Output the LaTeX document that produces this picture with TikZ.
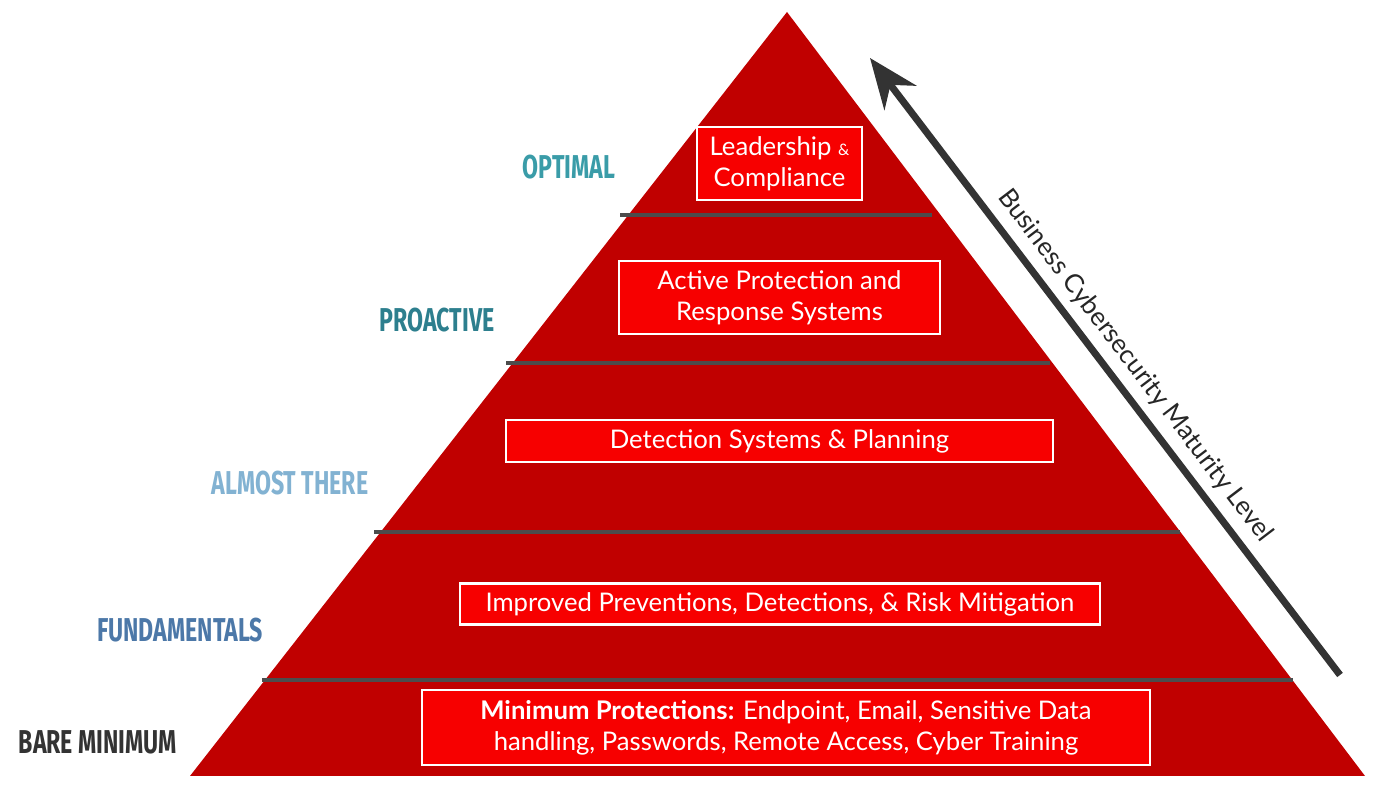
\documentclass[tikz,border=0pt]{standalone}
\usepackage{fontspec}
\usepackage{graphicx}
\setmainfont{Lato}
\newfontfamily\labelfont{Fira Sans}
\usetikzlibrary{arrows.meta}
\definecolor{pyrred}{HTML}{C00000}
\definecolor{boxred}{HTML}{F70000}
\definecolor{optcol}{HTML}{3A9CA8}
\definecolor{procol}{HTML}{2D7F8E}
\definecolor{almcol}{HTML}{82B2D2}
\definecolor{funcol}{HTML}{4C78A8}
\definecolor{barecol}{HTML}{333333}
\tikzset{
  levelbox/.style={draw=white, line width=0.25mm, fill=boxred, text=white, align=center,
    inner sep=0pt, font=\fontsize{7.3}{8.8}\selectfont},
  levellabel/.style={font=\labelfont\bfseries\fontsize{9.4}{11}\selectfont},
  bandline/.style={draw=black!70, line width=0.4mm}
}
\newcommand{\narrow}[1]{\scalebox{0.70}[1]{#1}}
\begin{document}
\begin{tikzpicture}[x=0.01cm,y=-0.01cm]
\useasboundingbox (0,0) rectangle (1387,786);
% pyramid
\fill[pyrred] (787,12) -- (1365,776) -- (190,776) -- cycle;
\draw[bandline] (620,215) -- (932,215);
\draw[bandline] (506,363) -- (1050,363);
\draw[bandline] (374,532) -- (1180,532);
\draw[bandline] (262,680) -- (1293,680);
% boxes
\node[levelbox, minimum width=1.65cm, minimum height=0.73cm] (lead) at (779.5,163.5) {Leadership {\fontsize{4.5}{5}\selectfont\&}\\Compliance};
\node[levelbox, minimum width=3.21cm, minimum height=0.73cm] (active) at (779.5,297.5) {Active Protection and\\Response Systems};
\node[levelbox, minimum width=5.47cm, minimum height=0.42cm] (detect) at (779.5,441) {Detection Systems \& Planning};
\node[levelbox, minimum width=6.40cm, minimum height=0.41cm] (improve) at (780,604) {Improved Preventions, Detections, \& Risk Mitigation};
\node[levelbox, minimum width=7.28cm, minimum height=0.75cm] (minimum) at (786,727.5) {\textbf{Minimum Protections:} Endpoint, Email, Sensitive Data\\handling, Passwords, Remote Access, Cyber Training};
% level names
\node[levellabel, text=optcol] (optimal) at (569,167) {\narrow{OPTIMAL}};
\node[levellabel, text=procol] (proactive) at (437,320) {\narrow{PROACTIVE}};
\node[levellabel, text=almcol] (almost) at (290,483) {\narrow{ALMOST THERE}};
\node[levellabel, text=funcol] (fundamentals) at (180,630) {\narrow{FUNDAMENTALS}};
\node[levellabel, text=barecol] (bare) at (98,742) {\narrow{BARE MINIMUM}};
% maturity arrow
\coordinate (arrowlow) at (1340,675);
\coordinate (arrowhigh) at (870,58);
\draw[black!80, line width=0.7mm, -{Stealth[length=5mm,width=4mm]}] (arrowlow) -- (arrowhigh);
\node[rotate=-52.7, font=\fontsize{7.4}{9}\selectfont, text=black!85] (maturity) at (1135,366) {Business Cybersecurity Maturity Level};
\end{tikzpicture}
\end{document}
